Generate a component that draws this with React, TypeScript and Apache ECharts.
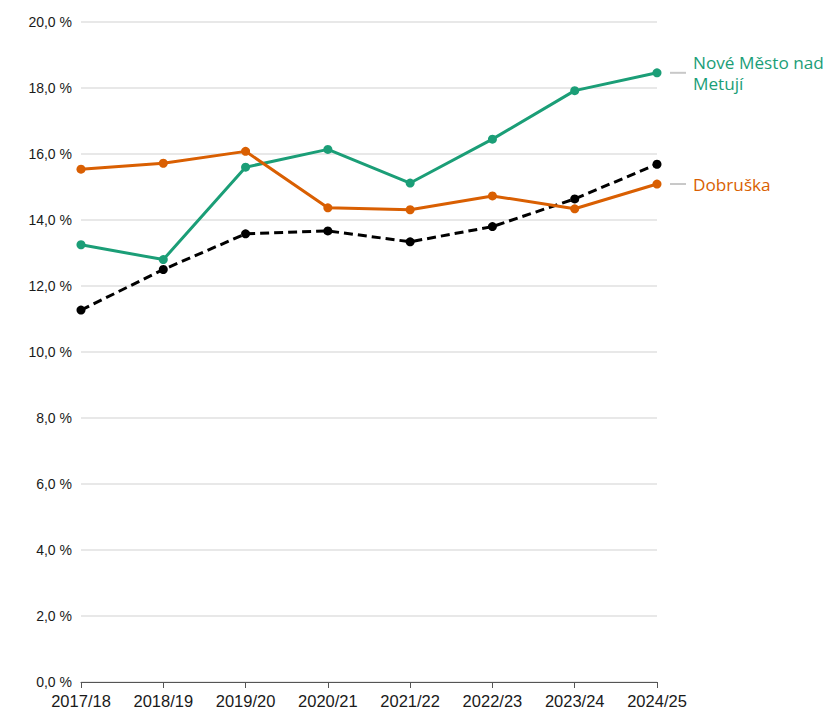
import React, { useEffect, useRef } from "react";
import * as echarts from "echarts";

const categories = ["2017/18", "2018/19", "2019/20", "2020/21", "2021/22", "2022/23", "2023/24", "2024/25"];
const noveMestoLabel = "Nové Město nad\nMetují";
const noveMesto = [13.25, 12.8, 15.6, 16.14, 15.12, 16.45, 17.92, 18.46];
const dobruskaLabel = "Dobruška";
const dobruska = [15.54, 15.72, 16.08, 14.37, 14.31, 14.73, 14.34, 15.09];
const reference = [11.27, 12.5, 13.58, 13.67, 13.34, 13.8, 14.64, 15.69];
const yTicks = { min: 0, max: 20, interval: 2 };

const GREEN = "#1b9e77";
const ORANGE = "#d95f02";
const AXIS_FONT = "Liberation Sans";
const LABEL_FONT = "Open Sans";

export default function App() {
  const ref = useRef<HTMLDivElement>(null);
  useEffect(() => {
    if (!ref.current) return;
    const chart = echarts.init(ref.current, null, { renderer: "svg" });
    const endLabel = (text: string, color: string) => ({
      show: true,
      formatter: () => text,
      color,
      fontFamily: LABEL_FONT,
      fontSize: 17.2,
      lineHeight: 21,
      distance: 36,
      align: "left",
      verticalAlign: "middle",
    });
    chart.setOption({
      animation: false,
      grid: { left: 73, right: 172, top: 14, bottom: 23, containLabel: false },
      xAxis: {
        type: "category",
        data: categories,
        boundaryGap: false,
        axisLine: { show: true, lineStyle: { color: "#555", width: 1 } },
        axisTick: { show: true, alignWithLabel: true, length: 6, lineStyle: { color: "#555" } },
        axisLabel: { color: "#1a1a1a", fontFamily: AXIS_FONT, fontSize: 16.5, margin: 10, interval: 0 },
        splitLine: { show: false },
      },
      yAxis: {
        type: "value",
        min: yTicks.min,
        max: yTicks.max,
        interval: yTicks.interval,
        axisLine: { show: false },
        axisTick: { show: false },
        axisLabel: {
          color: "#1a1a1a",
          fontFamily: AXIS_FONT,
          fontSize: 14,
          margin: 9,
          formatter: (v: number) => v.toFixed(1).replace(".", ",") + " %",
        },
        splitLine: { show: true, lineStyle: { color: "#e0e0e0", width: 1.5 } },
      },
      series: [
        {
          name: "Nové Město nad Metují",
          type: "line",
          data: noveMesto,
          color: GREEN,
          lineStyle: { width: 3, color: GREEN },
          symbol: "circle",
          symbolSize: 9,
          itemStyle: { color: GREEN },
          endLabel: endLabel(noveMestoLabel, GREEN),
          z: 3,
        },
        {
          name: "Dobruška",
          type: "line",
          data: dobruska,
          color: ORANGE,
          lineStyle: { width: 3, color: ORANGE },
          symbol: "circle",
          symbolSize: 9,
          itemStyle: { color: ORANGE },
          endLabel: endLabel(dobruskaLabel, ORANGE),
          z: 3,
        },
        {
          name: "Průměr",
          type: "line",
          data: reference,
          color: "#000",
          lineStyle: { width: 3, color: "#000", type: [9, 5] },
          symbol: "circle",
          symbolSize: 9,
          itemStyle: { color: "#000" },
          z: 2,
        },
      ],
    });
    const last = categories.length - 1;
    const connectors = [noveMesto[last], dobruska[last]].map((v) => {
      const p = chart.convertToPixel({ gridIndex: 0 }, [last, v]) as number[];
      return {
        type: "line",
        shape: { x1: p[0] + 13, y1: p[1], x2: p[0] + 29, y2: p[1] },
        style: { stroke: "#c8c8c8", lineWidth: 2 },
        silent: true,
      };
    });
    chart.setOption({ graphic: connectors });
    return () => chart.dispose();
  }, []);
  return <div ref={ref} style={{ width: 821, height: 701 }} />;
}
